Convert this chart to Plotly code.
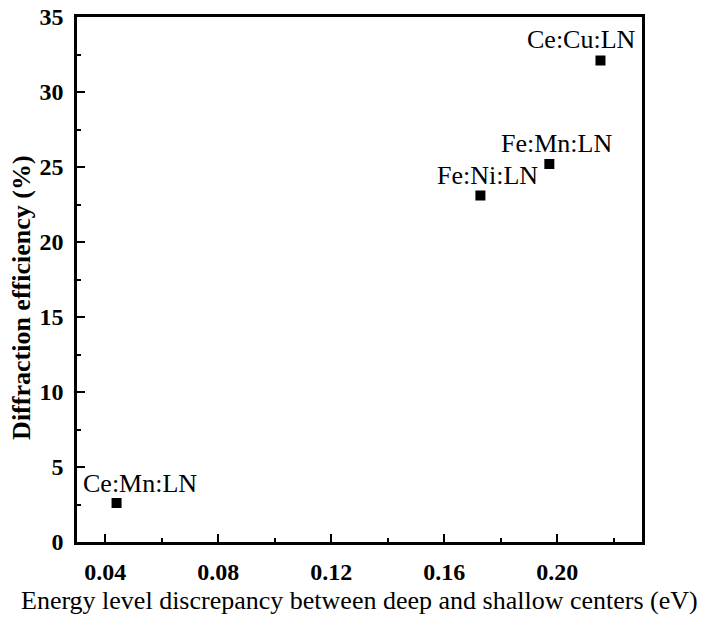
import plotly.graph_objects as go

labels = ["Ce:Mn:LN", "Fe:Ni:LN", "Fe:Mn:LN", "Ce:Cu:LN"]
energy_ev = [0.044, 0.1728, 0.1972, 0.2153]
efficiency = [2.6, 23.1, 25.2, 32.1]
label_dx = [23, 7, 7, -19]
label_dy = [20, 20, 21, 21]

x_tickvals = [0.04, 0.08, 0.12, 0.16, 0.20]
x_ticktext = ["0.04", "0.08", "0.12", "0.16", "0.20"]
y_tickvals = [0, 5, 10, 15, 20, 25, 30, 35]

x_title = "Energy level discrepancy between deep and shallow centers (eV)"
y_title = "Diffraction efficiency (%)"

FONT = "'Liberation Serif', 'Times New Roman', Times, serif"

fig = go.Figure()
fig.add_trace(go.Scatter(
    x=energy_ev, y=efficiency, mode="markers",
    marker=dict(symbol="square", size=10, color="black"),
    showlegend=False, cliponaxis=False,
))
for lab, x, y, dx, dy in zip(labels, energy_ev, efficiency, label_dx, label_dy):
    fig.add_annotation(x=x, y=y, text=lab, showarrow=False, xshift=dx, yshift=dy,
                       font=dict(family=FONT, size=26, color="black"))

fig.add_annotation(x=0.5, y=0, xref="paper", yref="paper", text=x_title,
                   showarrow=False, yshift=-58, yanchor="middle",
                   font=dict(family=FONT, size=26, color="black"))
fig.add_annotation(x=0, y=0.465, xref="paper", yref="paper", text=y_title,
                   showarrow=False, xshift=-55, textangle=-90, xanchor="center",
                   font=dict(family=FONT, size=26, color="black", weight="bold"))

fig.update_layout(
    width=702, height=620,
    margin=dict(l=77, r=60, t=17, b=78),
    paper_bgcolor="white", plot_bgcolor="white",
    font=dict(family=FONT, color="black"),
)
fig.update_xaxes(
    range=[0.03, 0.23], tickvals=x_tickvals, ticktext=x_ticktext,
    ticks="inside", ticklen=8, tickwidth=2, tickcolor="black",
    minor=dict(dtick=0.02, ticks="inside", ticklen=4, tickwidth=2, tickcolor="black"),
    showline=True, linewidth=2.5, linecolor="black", mirror=True,
    showgrid=False, zeroline=False, automargin=False, ticklabelstandoff=6,
    tickfont=dict(family=FONT, size=24, color="black", weight="bold"),
)
fig.update_yaxes(
    range=[0, 35], tickvals=y_tickvals,
    ticks="inside", ticklen=8, tickwidth=2, tickcolor="black",
    minor=dict(dtick=2.5, ticks="inside", ticklen=4, tickwidth=2, tickcolor="black"),
    showline=True, linewidth=2.5, linecolor="black", mirror=True,
    showgrid=False, zeroline=False, automargin=False, ticklabelstandoff=6,
    tickfont=dict(family=FONT, size=24, color="black", weight="bold"),
)

fig.write_html("out.html")
